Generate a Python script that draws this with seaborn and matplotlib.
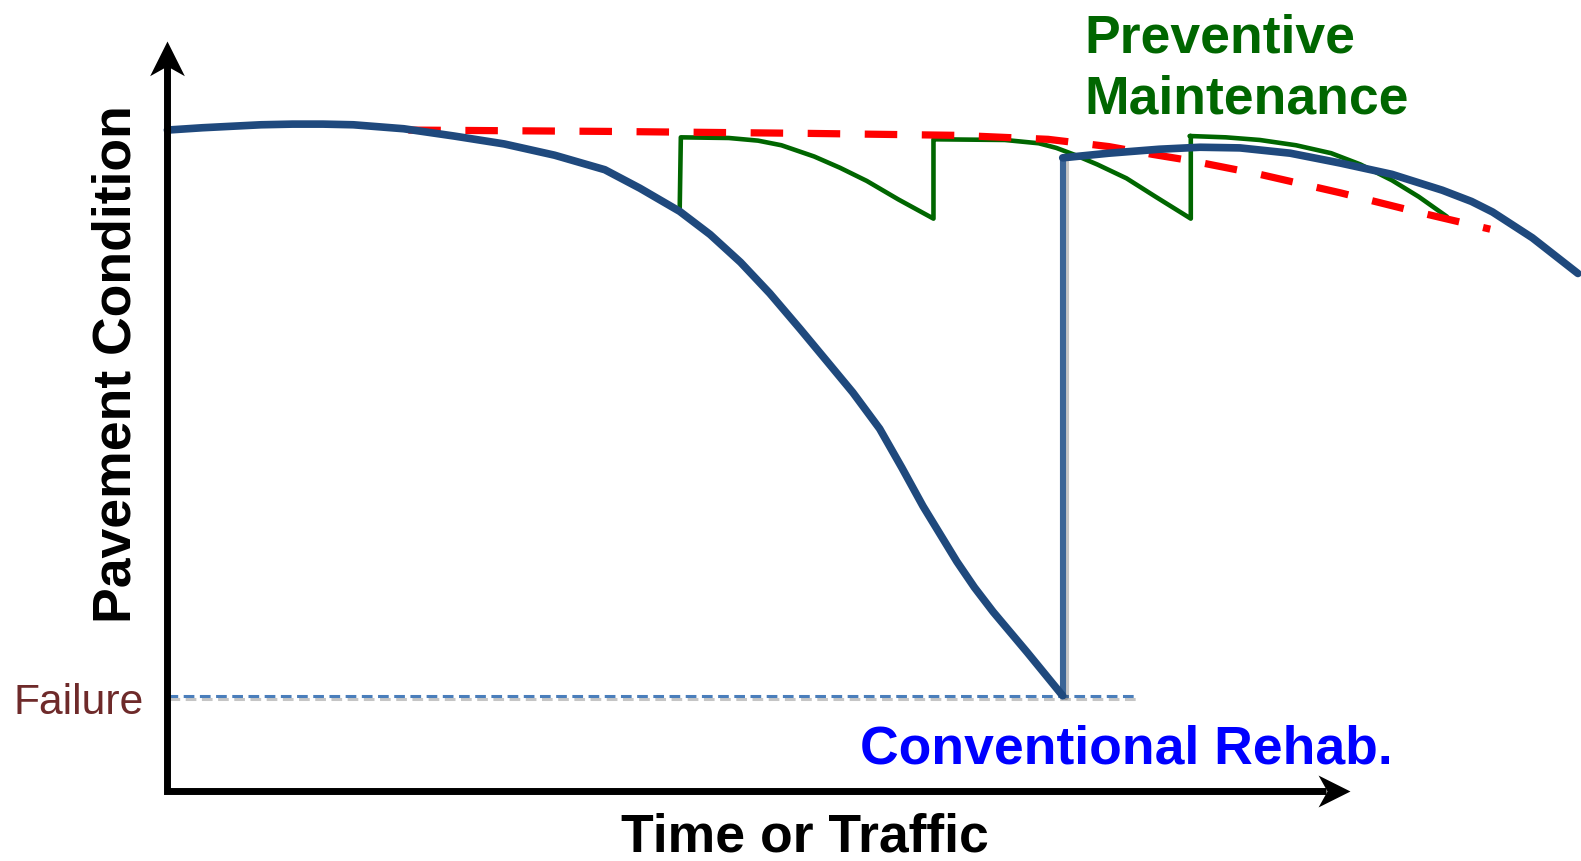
import numpy as np
import pandas as pd
import seaborn as sns
import matplotlib.pyplot as plt
import matplotlib.patheffects as pe
from matplotlib.path import Path

# Conceptual pavement deterioration curves (time units vs. condition index)
t_decay = [0.0, 0.3, 0.8, 1.07, 1.33, 1.59, 2.02, 2.45, 2.88, 3.31, 3.74, 4.04, 4.38,
           4.64, 4.90, 5.15, 5.41, 5.64, 5.86, 6.09, 6.28, 6.46, 6.75, 6.90, 7.06,
           7.35, 7.655]
c_decay = [100.0, 100.35, 100.8, 100.9, 100.9, 100.8, 100.2, 99.1, 97.9, 96.2, 94.0,
           91.2, 87.7, 84.2, 80.0, 75.3, 69.9, 65.0, 60.3, 54.8, 48.9, 43.1, 34.7,
           30.8, 27.1, 21.0, 14.4]

t_rehab = [7.655, 7.655]
c_rehab = [14.4, 95.8]

t_after = [7.655, 8.05, 8.48, 8.83, 9.17, 9.60, 10.03, 10.47, 10.90, 11.15, 11.33,
           11.67, 12.06]
c_after = [95.8, 96.5, 97.1, 97.4, 97.3, 96.5, 95.0, 93.3, 90.9, 89.2, 87.6,
           83.7, 78.3]

t_pm_trend = [2.06, 3.74, 5.47, 6.76, 7.53, 8.05, 8.43, 8.74, 9.34, 10.03, 10.64, 11.31]
c_pm_trend = [100.0, 99.8, 99.5, 99.2, 98.6, 97.5, 96.3, 95.4, 93.3, 90.5, 87.8, 85.0]

t_pm = [4.38, 4.39, 4.80, 5.05, 5.25, 5.53, 5.75, 5.98, 6.25, 6.55,
        6.55, 6.57, 7.16, 7.45, 7.60, 7.75, 7.95, 8.20, 8.45, 8.75,
        8.75, 8.74, 9.05, 9.34, 9.65, 9.95, 10.20, 10.47, 10.70, 10.94]
c_pm = [87.7, 98.9, 98.8, 98.4, 97.7, 96.0, 94.3, 92.3, 89.5, 86.6,
        98.6, 98.6, 98.5, 98.0, 97.3, 96.3, 94.8, 92.7, 89.9, 86.6,
        99.1, 99.1, 98.9, 98.5, 97.7, 96.5, 94.8, 92.4, 89.9, 86.9]

failure_level = 14.4
failure_t_end = 8.28

AXIS_X_END = 10.11
AXIS_Y_END = 113.5

sns.set_theme(style="white")
plt.rcParams['font.family'] = ['Liberation Sans', 'DejaVu Sans']

fig = plt.figure(figsize=(15.81, 8.62), dpi=100)
ax = fig.add_axes([0, 0, 1, 1])
ax.set_xlim(-166 / 116, 1402 / 116)
ax.set_ylim(-69.5 / 6.555, 785.5 / 6.555)
ax.axis('off')

# axes with stealth arrowheads
ax.plot([0, 0, AXIS_X_END - 0.2], [AXIS_Y_END - 3.5, 0, 0], color='black', lw=5,
        solid_joinstyle='miter', solid_capstyle='butt', zorder=5)
head_up = Path([(0, 0), (-0.5, -1), (0, -0.72), (0.5, -1), (0, 0)],
               [Path.MOVETO, Path.LINETO, Path.LINETO, Path.LINETO, Path.CLOSEPOLY])
head_right = Path([(0, 0), (-1, 0.5), (-0.72, 0), (-1, -0.5), (0, 0)],
                  [Path.MOVETO, Path.LINETO, Path.LINETO, Path.LINETO, Path.CLOSEPOLY])
ax.plot([0], [AXIS_Y_END], marker=head_up, markersize=50, color='black', mew=0, zorder=6)
ax.plot([AXIS_X_END], [0], marker=head_right, markersize=46, color='black', mew=0, zorder=6)

# failure threshold
ax.plot([0, failure_t_end], [failure_level, failure_level], color='#4a7ebb', lw=2.2,
        dashes=(3.5, 1.8), zorder=2,
        path_effects=[pe.SimpleLineShadow(offset=(1.5, -2.5), alpha=0.25), pe.Normal()])

# preventive maintenance
sns.lineplot(x=t_pm, y=c_pm, sort=False, estimator=None, color='#006600', lw=3.3,
             ax=ax, zorder=3)
sns.lineplot(x=t_pm_trend, y=c_pm_trend, sort=False, estimator=None, color='#ff0000',
             lw=5.2, ax=ax, zorder=3.5).lines[-1].set_dashes((4.5, 3.4))

# conventional rehab
sns.lineplot(x=t_rehab, y=c_rehab, sort=False, estimator=None, color='#3a6496', lw=4.4,
             ax=ax, zorder=4,
             path_effects=[pe.SimpleLineShadow(offset=(2.5, -1), alpha=0.25), pe.Normal()])
sns.lineplot(x=t_decay, y=c_decay, sort=False, estimator=None, color='#1f497d', lw=5.5,
             ax=ax, zorder=4.5)
sns.lineplot(x=t_after, y=c_after, sort=False, estimator=None, color='#1f497d', lw=5.5,
             ax=ax, zorder=4.5)
for ln in ax.lines:
    ln.set_clip_on(False)
    if ln.get_color() in ('#1f497d', '#006600'):
        ln.set_solid_joinstyle('round')

# labels
BOLD = 38.5
ax.text(129 / 1568, 1 - 361 / 855, 'Pavement Condition', transform=ax.transAxes,
        rotation=90, rotation_mode='anchor', ha='center', va='baseline',
        fontsize=BOLD, fontweight='bold', color='black')
ax.text(798 / 1568, 1 - 845 / 855, 'Time or Traffic', transform=ax.transAxes,
        ha='center', va='baseline', fontsize=BOLD, fontweight='bold', color='black')
ax.text(1075 / 1568, 1 - 52 / 855, 'Preventive', transform=ax.transAxes,
        ha='left', va='baseline', fontsize=BOLD, fontweight='bold', color='#006600')
ax.text(1075 / 1568, 1 - 113 / 855, 'Maintenance', transform=ax.transAxes,
        ha='left', va='baseline', fontsize=BOLD, fontweight='bold', color='#006600')
ax.text(853 / 1568, 1 - 757 / 855, 'Conventional Rehab.', transform=ax.transAxes,
        ha='left', va='baseline', fontsize=BOLD, fontweight='bold', color='#0000ff')
ax.text(13 / 1568, 1 - 708 / 855, 'Failure', transform=ax.transAxes,
        ha='left', va='baseline', fontsize=30.7, color='#6e2a2a')

fig.savefig('out.png', dpi=100)
